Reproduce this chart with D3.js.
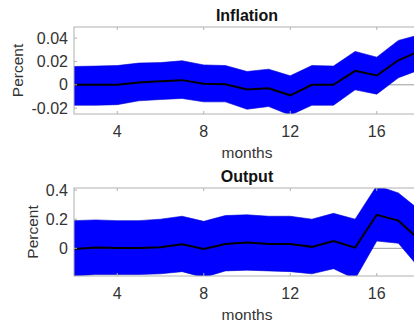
<!DOCTYPE html>
<html>
<head>
<meta charset="utf-8">
<script src="https://cdn.jsdelivr.net/npm/d3@7"></script>
<style>
  body { margin: 0; background: #fff; }
  svg { display: block; font-family: "Liberation Sans", Arial, sans-serif; }
</style>
</head>
<body>
<svg id="chart" width="414" height="329"></svg>
<script>
// months on the horizontal axis
const months = [2, 3, 4, 5, 6, 7, 8, 9, 10, 11, 12, 13, 14, 15, 16, 17, 18];
const monthTicks = [4, 8, 12, 16];

// Inflation response and bands
const inflationMean  = [0, 0, 0, 0.002, 0.003, 0.004, 0.001, 0.0005, -0.004, -0.003, -0.009, 0, 0, 0.012, 0.008, 0.021, 0.029];
const inflationUpper = [0.0157, 0.016, 0.0165, 0.0186, 0.019, 0.0206, 0.017, 0.0165, 0.0114, 0.0134, 0.0077, 0.0165, 0.016, 0.0286, 0.0237, 0.038, 0.043];
const inflationLower = [-0.0175, -0.0175, -0.017, -0.0137, -0.0126, -0.0117, -0.0146, -0.0146, -0.0209, -0.0186, -0.026, -0.0175, -0.0175, -0.0043, -0.008, 0.006, 0.013];
const inflationTicks = [-0.02, 0, 0.02, 0.04];
const inflationTickLabels = ["-0.02", "0", "0.02", "0.04"];

// Output response and bands
const outputMean  = [-0.005, 0.005, 0.003, 0.003, 0.008, 0.028, -0.005, 0.03, 0.04, 0.03, 0.03, 0.01, 0.05, 0.005, 0.23, 0.19, 0.055];
const outputUpper = [0.19, 0.195, 0.19, 0.19, 0.2, 0.22, 0.185, 0.225, 0.23, 0.22, 0.22, 0.2, 0.24, 0.2, 0.43, 0.38, 0.26];
const outputLower = [-0.19, -0.18, -0.18, -0.18, -0.175, -0.16, -0.2, -0.155, -0.15, -0.155, -0.16, -0.175, -0.14, -0.21, 0.05, 0.035, -0.14];
const outputTicks = [0, 0.2, 0.4];
const outputTickLabels = ["0", "0.2", "0.4"];

const svg = d3.select('#chart');

const x = d3.scaleLinear().domain([2, 18]).range([74, 420]);

function drawPanel(opts) {
  const y = d3.scaleLinear().domain(opts.domain).range([opts.bottom, opts.top]);
  const g = svg.append('g');

  const clipId = 'clip-' + opts.name;
  g.append('clipPath').attr('id', clipId)
    .append('rect')
    .attr('x', x.range()[0]).attr('y', opts.top)
    .attr('width', x.range()[1] - x.range()[0])
    .attr('height', opts.bottom - opts.top);

  const rows = months.map((m, i) => ({ m: m, mean: opts.mean[i], lo: opts.lower[i], hi: opts.upper[i] }));

  const plot = g.append('g').attr('clip-path', `url(#${clipId})`);

  // zero line
  plot.append('line')
    .attr('x1', x.range()[0]).attr('x2', x.range()[1])
    .attr('y1', y(0)).attr('y2', y(0))
    .style('stroke', '#9a9a9a')
    .style('stroke-width', 1);

  const area = d3.area()
    .x(d => x(d.m))
    .y0(d => y(d.lo))
    .y1(d => y(d.hi));

  plot.append('path')
    .datum(rows)
    .attr('d', area)
    .style('fill', '#0000ff')
    .style('stroke', '#0000d0')
    .style('stroke-width', 0.6);

  const line = d3.line()
    .x(d => x(d.m))
    .y(d => y(d.mean));

  plot.append('path')
    .datum(rows)
    .attr('d', line)
    .style('fill', 'none')
    .style('stroke', '#000')
    .style('stroke-width', 2);

  // axis box (MATLAB style, ticks pointing inward)
  const boxColor = '#b0b0b0';
  g.append('rect')
    .attr('x', x.range()[0]).attr('y', opts.top)
    .attr('width', x.range()[1] - x.range()[0])
    .attr('height', opts.bottom - opts.top)
    .style('fill', 'none')
    .style('stroke', boxColor)
    .style('stroke-width', 1);

  monthTicks.forEach(t => {
    g.append('line')
      .attr('x1', x(t)).attr('x2', x(t))
      .attr('y1', opts.bottom).attr('y2', opts.bottom - 3)
      .style('stroke', boxColor);
    g.append('line')
      .attr('x1', x(t)).attr('x2', x(t))
      .attr('y1', opts.top).attr('y2', opts.top + 3)
      .style('stroke', boxColor);
    g.append('text')
      .attr('x', x(t)).attr('y', opts.bottom + 23)
      .attr('text-anchor', 'middle')
      .style('font-size', '16px')
      .style('fill', '#333')
      .text(t);
  });

  opts.ticks.forEach((t, i) => {
    g.append('line')
      .attr('x1', x.range()[0]).attr('x2', x.range()[0] + 3)
      .attr('y1', y(t)).attr('y2', y(t))
      .style('stroke', boxColor);
    g.append('text')
      .attr('x', 68).attr('y', y(t))
      .attr('dy', '0.35em')
      .attr('text-anchor', 'end')
      .style('font-size', '16px')
      .style('fill', '#333')
      .text(opts.tickLabels[i]);
  });

  g.append('text')
    .attr('x', (x.range()[0] + x.range()[1]) / 2).attr('y', opts.top - 6)
    .attr('text-anchor', 'middle')
    .style('font-size', '16px')
    .style('font-weight', 'bold')
    .style('fill', '#111')
    .text(opts.title);

  g.append('text')
    .attr('x', 247).attr('y', opts.bottom + 44)
    .attr('text-anchor', 'middle')
    .style('font-size', '15.5px')
    .style('fill', '#333')
    .text('months');

  g.append('text')
    .attr('transform', `translate(${opts.labelX}, ${(opts.top + opts.bottom) / 2}) rotate(-90)`)
    .attr('text-anchor', 'middle')
    .attr('dy', '0.35em')
    .style('font-size', '15.5px')
    .style('fill', '#333')
    .text('Percent');
}

drawPanel({
  name: 'inflation', title: 'Inflation',
  top: 27, bottom: 114, domain: [-0.025, 0.0495],
  mean: inflationMean, upper: inflationUpper, lower: inflationLower,
  ticks: inflationTicks, tickLabels: inflationTickLabels, labelX: 18
});

drawPanel({
  name: 'output', title: 'Output',
  top: 188, bottom: 276, domain: [-0.19, 0.414],
  mean: outputMean, upper: outputUpper, lower: outputLower,
  ticks: outputTicks, tickLabels: outputTickLabels, labelX: 33
});
</script>
</body>
</html>
